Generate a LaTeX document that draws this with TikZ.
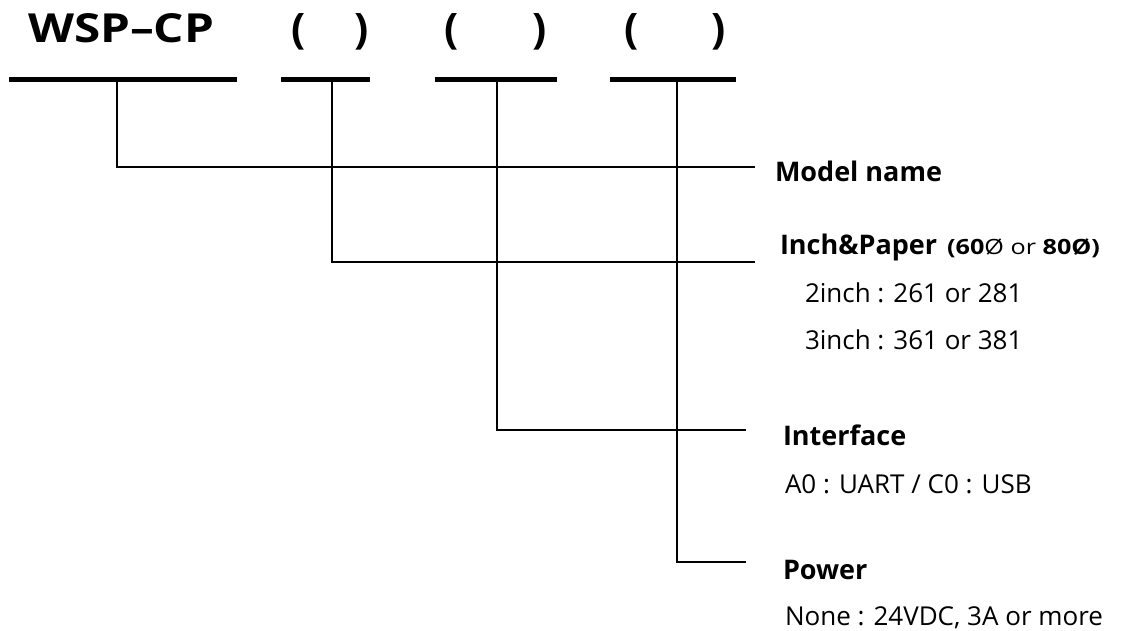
\documentclass[tikz,border=0pt]{standalone}
\usepackage{graphicx}
\usepackage{fontspec}
\setmainfont{Open Sans}
\newcommand\fTitle{\fontsize{40}{48}\selectfont\bfseries}
\newcommand\fParen{\fontsize{42}{50}\selectfont\bfseries}
\newcommand\fHead{\fontsize{27}{32}\selectfont\bfseries}
\newcommand\fBody{\fontsize{26}{31}\selectfont}
\newcommand\fSmall{\fontsize{21}{25}\selectfont}
\begin{document}
\begin{tikzpicture}[x=1pt,y=-1pt,
  bar/.style={line width=5pt},
  lead/.style={line width=1.6pt},
  lbl/.style={anchor=base west, inner sep=0pt, outer sep=0pt}]
\useasboundingbox (0,0) rectangle (1128,631);
% title and parentheses
\node[lbl] (title) at (28,43) {\scalebox{1.19}[1]{\fTitle WSP–CP}};
\node[lbl] (pa1) at (291,44) {\fParen (};
\node[lbl] (pb1) at (354,44) {\fParen )};
\node[lbl] (pa2) at (444,44) {\fParen (};
\node[lbl] (pb2) at (532,44) {\fParen )};
\node[lbl] (pa3) at (624,44) {\fParen (};
\node[lbl] (pb3) at (711,44) {\fParen )};
% bars
\draw[bar] (9,80) -- (237,80);
\draw[bar] (281,80) -- (370,80);
\draw[bar] (435,80) -- (557,80);
\draw[bar] (610,80) -- (736,80);
% lead anchors
\coordinate (t1) at (117,80);
\coordinate (t2) at (332,80);
\coordinate (t3) at (497,80);
\coordinate (t4) at (677,80);
\coordinate (e1) at (755,167);
\coordinate (e2) at (755,262);
\coordinate (e3) at (746,430);
\coordinate (e4) at (746,562);
\draw[lead] (t1) |- (e1);
\draw[lead] (t2) |- (e2);
\draw[lead] (t3) |- (e3);
\draw[lead] (t4) |- (e4);
% labels
\node[lbl] (model) at (775,182) {\fHead Model name};
\node[lbl] (inch) at (780,255) {\fHead Inch\&Paper\hspace{10pt}\scalebox{1.2}[1]{\fSmall\bfseries(60\mdseries Ø or \bfseries 80Ø)}};
\node[lbl] (inch2) at (805,303) {\fBody 2inch : 261 or 281};
\node[lbl] (inch3) at (805,349) {\fBody 3inch : 361 or 381};
\node[lbl] (iface) at (783,445) {\fHead Interface};
\node[lbl] (iface1) at (785,493) {\fBody A0 : UART / C0 : USB};
\node[lbl] (power) at (783,579) {\fHead Power};
\node[lbl] (power1) at (785,625) {\fBody None : 24VDC, 3A or more};
\end{tikzpicture}
\end{document}
